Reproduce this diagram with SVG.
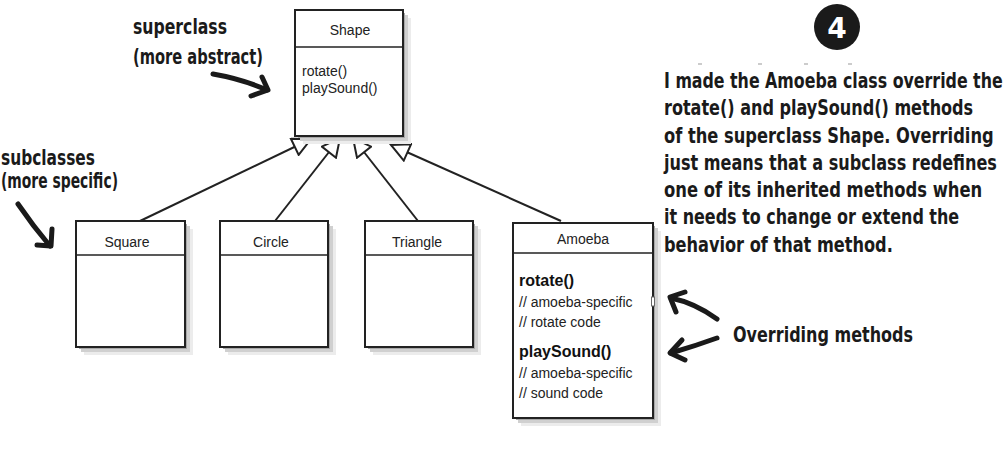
<svg xmlns="http://www.w3.org/2000/svg" width="1006" height="449" viewBox="0 0 1006 449">
<defs>
<style>
.box{fill:#fff;stroke:#222;stroke-width:2}
.div{stroke:#222;stroke-width:1.6}
.s1{fill:#ececec}
.s2{fill:#d0d0d0}
.s3{fill:#a8a8a8}
.uml{font-family:"Liberation Sans",Arial,sans-serif;font-size:14px;fill:#222}
.umlb{font-family:"Liberation Sans",Arial,sans-serif;font-size:16px;font-weight:bold;fill:#111}
.hand{font-family:"DejaVu Sans Condensed","DejaVu Sans",sans-serif;font-weight:bold;font-size:21px;fill:#1a1a1a}
.conn{stroke:#222;stroke-width:2;fill:none;marker-end:url(#tri)}
.harrow{stroke:#1a1a1a;stroke-width:5;fill:none;stroke-linecap:round;stroke-linejoin:round}
</style>
<marker id="tri" markerUnits="userSpaceOnUse" markerWidth="22" markerHeight="20" refX="18" refY="9" orient="auto" viewBox="-1 -1 21 20">
<path d="M0,0 L18,9 L0,18 Z" fill="#fff" stroke="#222" stroke-width="2" stroke-linejoin="miter"/>
</marker>
</defs>
<rect width="1006" height="449" fill="#fff"/>

<g id="connectors">
<line class="conn" x1="140" y1="221" x2="311" y2="139"/>
<line class="conn" x1="275" y1="221" x2="340" y2="138"/>
<line class="conn" x1="418" y1="221" x2="353" y2="138"/>
<line class="conn" x1="561" y1="221" x2="391" y2="145"/>
</g>

<g id="shape">
<rect class="s1" x="303" y="18" width="108" height="126"/>
<rect class="s2" x="300" y="15" width="108" height="126"/>
<rect class="s3" x="298" y="13" width="107" height="125"/>
<rect class="box" x="295" y="10" width="108" height="126"/>
<line class="div" x1="295" y1="47" x2="403" y2="47"/>
<text class="uml" x="350" y="35" text-anchor="middle">Shape</text>
<text class="uml" x="302" y="76">rotate()</text>
<text class="uml" x="302" y="93">playSound()</text>
</g>

<g id="square">
<rect class="s1" x="84" y="229" width="109" height="126"/>
<rect class="s2" x="81" y="226" width="109" height="126"/>
<rect class="s3" x="79" y="224" width="108" height="125"/>
<rect class="box" x="76" y="221" width="109" height="126"/>
<line class="div" x1="76" y1="255" x2="185" y2="255"/>
<text class="uml" x="127" y="247" text-anchor="middle">Square</text>
</g>

<g id="circle">
<rect class="s1" x="228" y="229" width="108" height="126"/>
<rect class="s2" x="225" y="226" width="108" height="126"/>
<rect class="s3" x="223" y="224" width="107" height="125"/>
<rect class="box" x="220" y="221" width="108" height="126"/>
<line class="div" x1="220" y1="255" x2="328" y2="255"/>
<text class="uml" x="271" y="247" text-anchor="middle">Circle</text>
</g>

<g id="triangle">
<rect class="s1" x="373" y="229" width="108" height="126"/>
<rect class="s2" x="370" y="226" width="108" height="126"/>
<rect class="s3" x="368" y="224" width="107" height="125"/>
<rect class="box" x="365" y="221" width="108" height="126"/>
<line class="div" x1="365" y1="255" x2="473" y2="255"/>
<text class="uml" x="417" y="247" text-anchor="middle">Triangle</text>
</g>

<g id="amoeba">
<rect class="s1" x="521" y="231" width="140" height="195"/>
<rect class="s2" x="518" y="228" width="140" height="195"/>
<rect class="s3" x="516" y="226" width="139" height="194"/>
<rect class="box" x="513" y="223" width="140" height="195"/>
<line class="div" x1="513" y1="253" x2="653" y2="253"/>
<text class="uml" x="583" y="244" text-anchor="middle">Amoeba</text>
<text class="umlb" x="519" y="286">rotate()</text>
<text class="uml" x="519" y="307">// amoeba-specific</text>
<text class="uml" x="519" y="327">// rotate code</text>
<text class="umlb" x="519" y="357">playSound()</text>
<text class="uml" x="519" y="378">// amoeba-specific</text>
<text class="uml" x="519" y="398">// sound code</text>
<rect x="651.5" y="297" width="3" height="9" fill="#fff" stroke="#666" stroke-width="1"/>
</g>

<g id="superclass-label">
<text class="hand" x="133" y="34" textLength="94" lengthAdjust="spacingAndGlyphs">superclass</text>
<text class="hand" x="133" y="64" textLength="130" lengthAdjust="spacingAndGlyphs">(more abstract)</text>
<path class="harrow" d="M213,74 Q242,79 267,90"/>
<path class="harrow" d="M262,77 L268,90 L251,96"/>
</g>

<g id="subclasses-label">
<text class="hand" x="1" y="165" textLength="94" lengthAdjust="spacingAndGlyphs">subclasses</text>
<text class="hand" x="1" y="188" textLength="117" lengthAdjust="spacingAndGlyphs">(more specific)</text>
<path class="harrow" d="M18,204 Q33,226 50,246"/>
<path class="harrow" d="M52,229 L51,246 L37,245"/>
</g>

<g id="step-4">
<circle cx="837" cy="27" r="23" fill="#1a1a1a"/>
<text x="837" y="38" text-anchor="middle" font-family="DejaVu Sans,sans-serif" font-weight="bold" font-size="28" fill="#fff">4</text>
<g stroke="#999" stroke-width="1">
<line x1="698" y1="64" x2="702" y2="64"/>
<line x1="758" y1="64" x2="762" y2="64"/>
<line x1="804" y1="64" x2="808" y2="64"/>
<line x1="848" y1="64" x2="852" y2="64"/>
</g>
</g>

<g id="explanation" transform="translate(664,0) scale(0.82,1)">
<text class="hand" x="0" y="88" textLength="413" lengthAdjust="spacingAndGlyphs">I made the Amoeba class override the</text>
<text class="hand" x="0" y="115" textLength="377" lengthAdjust="spacingAndGlyphs">rotate() and playSound() methods</text>
<text class="hand" x="0" y="143" textLength="402" lengthAdjust="spacingAndGlyphs">of the superclass Shape. Overriding</text>
<text class="hand" x="0" y="170" textLength="406" lengthAdjust="spacingAndGlyphs">just means that a subclass redefines</text>
<text class="hand" x="0" y="197" textLength="388" lengthAdjust="spacingAndGlyphs">one of its inherited methods when</text>
<text class="hand" x="0" y="224" textLength="360" lengthAdjust="spacingAndGlyphs">it needs to change or extend the</text>
<text class="hand" x="0" y="252" textLength="279" lengthAdjust="spacingAndGlyphs">behavior of that method.</text>
</g>

<g id="overriding-label">
<text class="hand" x="733" y="342" font-size="22" textLength="180" lengthAdjust="spacingAndGlyphs">Overriding methods</text>
<path class="harrow" d="M717,319 Q695,303 671,298"/>
<path class="harrow" d="M685,292 L670,297 L676,312"/>
<path class="harrow" d="M717,338 Q695,346 671,353"/>
<path class="harrow" d="M682,340 L670,353 L685,360"/>
</g>
</svg>
